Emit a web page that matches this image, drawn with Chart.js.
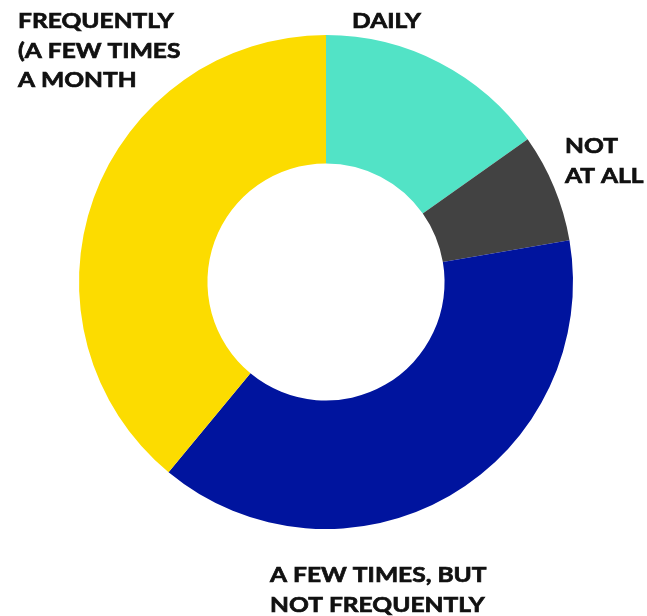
<!DOCTYPE html>
<html>
<head>
<meta charset="utf-8">
<script src="https://cdn.jsdelivr.net/npm/chart.js@4"></script>
<style>
  html, body { margin: 0; padding: 0; background: #ffffff; }
  #wrap { width: 647px; height: 616px; }
</style>
</head>
<body>
<div id="wrap"><canvas id="usageChart" width="647" height="616"></canvas></div>
<script>
const categories = ['DAILY', 'NOT AT ALL', 'A FEW TIMES, BUT NOT FREQUENTLY', 'FREQUENTLY (A FEW TIMES A MONTH'];
const shares = [15.2, 7.1, 38.7, 39];
const colors = ['#52e3c6', '#424242', '#00149e', '#fcdc00'];

// label lines and where each block sits on the canvas
const labelLines = [
    ['DAILY'],
    ['NOT', 'AT ALL'],
    ['A FEW TIMES, BUT', 'NOT FREQUENTLY'],
    ['FREQUENTLY', '(A FEW TIMES', 'A MONTH']
];
const labelSpots = [
    { x: 352, y: 28 },
    { x: 565, y: 153 },
    { x: 270, y: 582 },
    { x: 18, y: 28 }
];

const outerLabels = {
    id: 'outerLabels',
    afterDraw(chart) {
        const ctx = chart.ctx;
        ctx.fillStyle = '#111111';
        ctx.strokeStyle = '#111111';
        ctx.lineWidth = 0.7;
        ctx.font = 'bold 21px Lato, sans-serif';
        ctx.textBaseline = 'alphabetic';
        labelLines.forEach((lines, i) => {
            lines.forEach((line, j) => {
                ctx.save();
                // widen the glyphs a bit, the label face is a broad geometric sans
                ctx.translate(labelSpots[i].x, labelSpots[i].y + j * 29.5);
                ctx.scale(1.17, 1);
                ctx.fillText(line, 0, 0);
                ctx.strokeText(line, 0, 0);
                ctx.restore();
            });
        });
    }
};

document.addEventListener('DOMContentLoaded', function () {
    const ctx = document.getElementById('usageChart').getContext('2d');
    new Chart(ctx, {
        type: 'doughnut',
        data: {
            labels: categories,
            datasets: [{
                data: shares,
                backgroundColor: colors,
                borderWidth: 0
            }]
        },
        options: {
            responsive: false,
            animation: false,
            cutout: '48%',
            layout: {
                padding: { top: 35, bottom: 87, left: 79, right: 74 }
            },
            plugins: {
                legend: { display: false },
                tooltip: { enabled: false }
            }
        },
        plugins: [outerLabels]
    });
});
</script>
</body>
</html>
